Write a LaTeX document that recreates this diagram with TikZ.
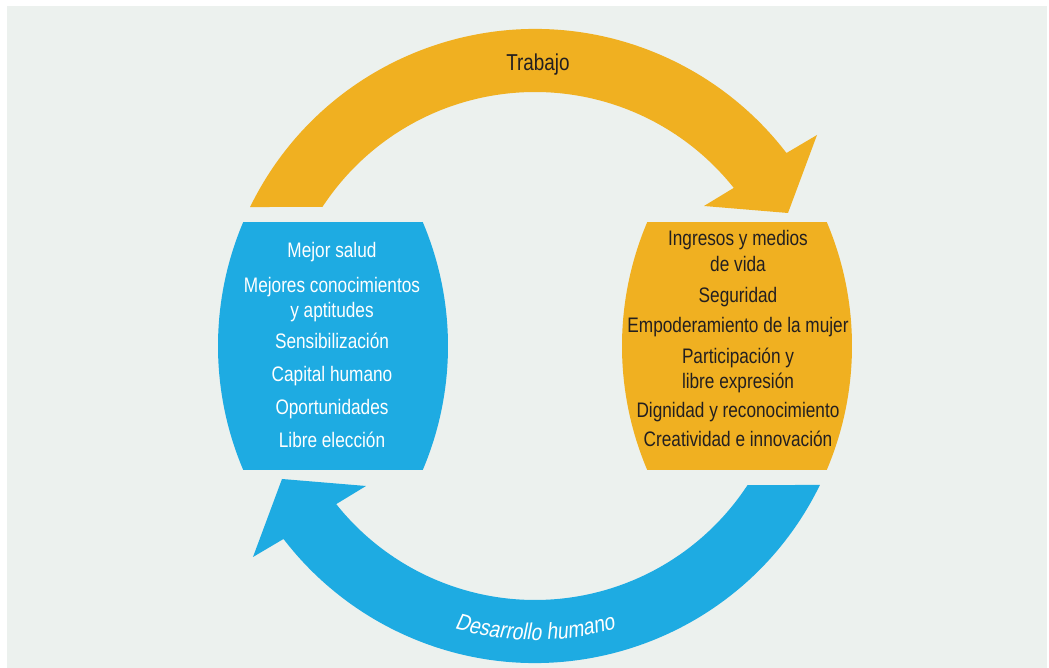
\documentclass[tikz,border=0pt]{standalone}
\usepackage{fontspec}
\setmainfont[FakeStretch=0.82]{Liberation Sans}
\newfontfamily\obliquefont[FakeStretch=0.84,FakeSlant=0.17]{Liberation Sans}
\usetikzlibrary{decorations.text}
\definecolor{trabajoorange}{HTML}{F0B021}
\definecolor{desarrolloblue}{HTML}{1EABE2}
\definecolor{backdropgrey}{HTML}{ECF1EE}
\definecolor{textdark}{HTML}{231F20}
\newcommand\cyclearrow{(154:317) arc[start angle=154,end angle=37.5,radius=317]
  -- (282,211) -- (253,133) -- (169,140) -- (38.5:254)
  arc[start angle=38.5,end angle=146.8,radius=254] -- cycle}
\newcommand\sidebox{(157:317) arc[start angle=157,end angle=203,radius=317]
  -- (-112.2,-123.9) arc[start angle=-23,end angle=23,radius=317] -- cycle}
\tikzstyle{itemwhite} = [anchor=base,text=white,inner sep=0pt,font=\fontsize{21}{25}\selectfont]
\tikzstyle{itemdark} = [anchor=base,text=textdark,inner sep=0pt,font=\fontsize{21}{25}\selectfont]
\tikzstyle{cyclelabel} = [anchor=base,text=textdark,inner sep=0pt,font=\fontsize{23}{28}\selectfont]

\begin{document}
\begin{tikzpicture}[x=1pt,y=1pt]

\useasboundingbox (-535,-322) rectangle (514,346);
\fill[backdropgrey] (-528,-322) rectangle (512,340);

\fill[trabajoorange] \cyclearrow;
\fill[desarrolloblue,rotate=180] \cyclearrow;
\fill[desarrolloblue] \sidebox;
\fill[trabajoorange,xscale=-1] \sidebox;

\node[cyclelabel] (trabajo) at (3,275.3) {Trabajo};
\path[decorate,decoration={text along path,text align=center,text color=white,
  text={|\fontsize{23}{28}\obliquefont|Desarrollo humano}}]
  (240:294) arc[start angle=240,end angle=300,radius=294];

\foreach \y/\txt [count=\i] in {88.7/Mejor salud,53.3/Mejores conocimientos,28.7/y aptitudes,
  -3/Sensibilización,-35.7/Capital humano,-68.3/Oportunidades,-101.3/Libre elección}
  \node[itemwhite] (h\i) at (-203,\y) {\txt};

\foreach \y/\txt [count=\i] in {100/Ingresos y medios,74.3/de vida,43.3/Seguridad,
  13.3/Empoderamiento de la mujer,-17.3/Participación y,-42.3/libre expresión,
  -71.3/Dignidad y reconocimiento,-100.7/Creatividad e innovación}
  \node[itemdark] (w\i) at (203,\y) {\txt};

\end{tikzpicture}
\end{document}
